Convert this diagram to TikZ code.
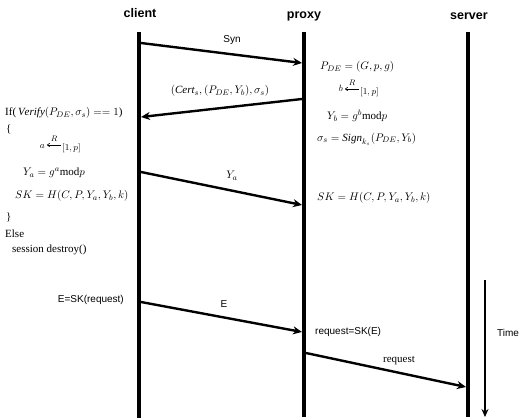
\documentclass[tikz,border=0pt]{standalone}
\usepackage{amsmath}
\usepackage{fontspec}
\setmainfont{Liberation Serif}
\setsansfont{Liberation Sans}
\usetikzlibrary{arrows.meta}
\begin{document}
\begin{tikzpicture}[x=1pt,y=-1pt,
  life/.style={line width=4.5pt},
  msg/.style={line width=2.4pt,-{Stealth[length=9pt,width=8pt]}},
  rarr/.style={line width=0.6pt,-{To[length=3pt,width=4pt]}},
  hdr/.style={font=\sffamily\bfseries\fontsize{12.5}{14}\selectfont,inner sep=0pt},
  slbl/.style={font=\sffamily\fontsize{10}{12}\selectfont,inner sep=0pt},
  txt/.style={font=\fontsize{11}{13}\selectfont,inner sep=0pt},
  stxt/.style={font=\fontsize{9.5}{11}\selectfont,inner sep=0pt},
  rtxt/.style={font=\fontsize{8}{9}\selectfont,inner sep=0pt}]
\useasboundingbox (0,0) rectangle (530,420);
% headers
\node[hdr] (hc) at (140,13) {client};
\node[hdr] (hp) at (304,16) {proxy};
\node[hdr] (hs) at (469,16) {server};
% lifelines
\coordinate (c0) at (139,32); \coordinate (c1) at (139,418);
\coordinate (p0) at (304,32); \coordinate (p1) at (304,417);
\coordinate (s0) at (468,32); \coordinate (s1) at (468,417);
\draw[life] (c0) -- (c1);
\draw[life] (p0) -- (p1);
\draw[life] (s0) -- (s1);
% message endpoints
\coordinate (m1a) at (141,43);  \coordinate (m1b) at (302,63);
\coordinate (m2a) at (302,99);  \coordinate (m2b) at (141,117);
\coordinate (m3a) at (141,172); \coordinate (m3b) at (302,205);
\coordinate (m4a) at (141,302); \coordinate (m4b) at (302,332);
\coordinate (m5a) at (306,353); \coordinate (m5b) at (466,387);
\draw[msg] (m1a) -- (m1b);
\draw[msg] (m2a) -- (m2b);
\draw[msg] (m3a) -- (m3b);
\draw[msg] (m4a) -- (m4b);
\draw[msg] (m5a) -- (m5b);
% message labels
\node[slbl] (l1) at (232,40) {Syn};
\node[txt] (l2) at (220,91) {$(\mathit{Cert}_s,(P_{DE},Y_b),\sigma_s)$};
\node[txt] (l3) at (232,176) {$Y_a$};
\node[slbl] (l4) at (224,304) {E};
\node[txt] (l5) at (399,361) {request};
% proxy side
\node[txt,anchor=west] (p1t) at (320,67) {$P_{DE}=(G,p,g)$};
\node[stxt,anchor=base east] (pb) at (343,92) {$b$};
\coordinate (pra) at (359,89); \coordinate (prb) at (345,89);
\draw[rarr] (pra) -- (prb);
\node[rtxt,anchor=base] (pR) at (352,85) {$R$};
\node[stxt,anchor=base west] (pint) at (360,94) {$[1,p]$};
\node[txt,anchor=west] (p3t) at (327,116) {$Y_b=g^b\mathrm{mod}p$};
\node[txt,anchor=west] (p4t) at (317,139) {$\sigma_s=\mathit{Sign}_{k_s}(P_{DE},Y_b)$};
\node[txt,anchor=west] (p5t) at (317,198) {$SK=H(C,P,Y_a,Y_b,k)$};
\node[slbl,anchor=west] (p6t) at (315,332) {request=SK(E)};
% client side
\node[txt,anchor=west] (t1) at (5,113) {If(\,$\mathit{Verify}(P_{DE},\sigma_s)==1$)};
\node[txt,anchor=west] (t2) at (6,129) {\{};
\node[stxt,anchor=base east] (ca) at (45,148) {$a$};
\coordinate (cra) at (61,145); \coordinate (crb) at (47,145);
\draw[rarr] (cra) -- (crb);
\node[rtxt,anchor=base] (cR) at (54,141) {$R$};
\node[stxt,anchor=base west] (cint) at (62,150) {$[1,p]$};
\node[txt,anchor=west] (t4) at (23,173) {$Y_a=g^a\mathrm{mod}p$};
\node[txt,anchor=west] (t5) at (15,196) {$SK=H(C,P,Y_a,Y_b,k)$};
\node[txt,anchor=west] (t6) at (6,217) {\}};
\node[txt,anchor=west] (t7) at (5,234) {Else};
\node[txt,anchor=west] (t8) at (12,250) {session destroy()};
\node[slbl,anchor=east] (t9) at (124,300) {E=SK(request)};
% time arrow
\coordinate (ta) at (485,280); \coordinate (tb) at (485,417);
\draw[line width=1.6pt,-{Stealth[length=8pt,width=7pt]}] (ta) -- (tb);
\node[slbl,anchor=west] (tl) at (497,333) {Time};
\end{tikzpicture}
\end{document}
